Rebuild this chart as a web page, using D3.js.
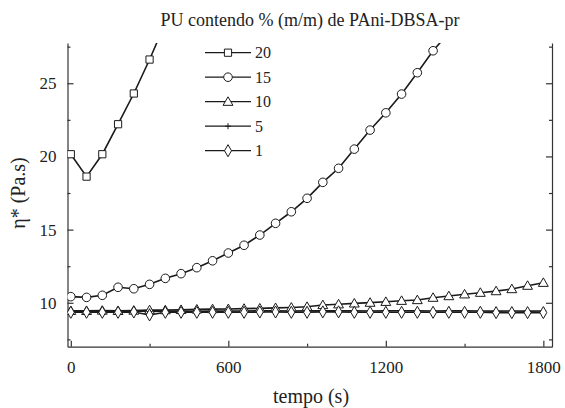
<!DOCTYPE html>
<html>
<head>
<meta charset="utf-8">
<script src="https://cdn.jsdelivr.net/npm/d3@7"></script>
<style>
  body { margin: 0; background: #fff; }
  .axis path, .axis line { stroke: #333; stroke-width: 1.2; }
</style>
</head>
<body>
<div id="chart"></div>
<script>
// 1: DATA
const times = [0, 60, 120, 180, 240, 300, 360, 420, 480, 540, 600, 660, 720, 780, 840, 900,
  960, 1020, 1080, 1140, 1200, 1260, 1320, 1380, 1440, 1500, 1560, 1620, 1680, 1740, 1800];

const seriesNames = ["20", "15", "10", "5", "1"];

const pu20 = [20.15, 18.62, 20.15, 22.2, 24.3, 26.62, 29.1];
const pu15 = [10.42, 10.37, 10.51, 11.06, 10.96, 11.26, 11.67, 11.99, 12.40, 12.87, 13.40, 13.93, 14.63,
  15.43, 16.22, 17.14, 18.23, 19.19, 20.5, 21.8, 22.98, 24.26, 25.72, 27.22, 28.45];
const pu10 = [9.45, 9.45, 9.47, 9.45, 9.47, 9.5, 9.5, 9.52, 9.55, 9.57, 9.58, 9.6, 9.62, 9.65, 9.68,
  9.73, 9.85, 9.90, 9.96, 10.01, 10.07, 10.14, 10.19, 10.35, 10.46, 10.58, 10.69, 10.80, 10.94, 11.17, 11.37];
const pu5 = [9.42, 9.42, 9.43, 9.42, 9.44, 9.4, 9.42, 9.43, 9.42, 9.44, 9.43, 9.44, 9.45, 9.45, 9.44,
  9.45, 9.45, 9.46, 9.45, 9.44, 9.45, 9.46, 9.45, 9.44, 9.45, 9.45, 9.44, 9.43, 9.44, 9.43, 9.44];
const pu1 = [9.35, 9.35, 9.35, 9.35, 9.37, 9.17, 9.35, 9.35, 9.35, 9.35, 9.35, 9.35, 9.37, 9.37, 9.35,
  9.35, 9.38, 9.38, 9.35, 9.35, 9.35, 9.35, 9.35, 9.35, 9.35, 9.35, 9.35, 9.33, 9.33, 9.33, 9.33];

const xMajor = [0, 600, 1200, 1800];
const xMinor = [300, 900, 1500];
const yMajor = [10, 15, 20, 25];
const yMinor = [7.5, 12.5, 17.5, 22.5, 27.5];

const serif = "'Liberation Serif', 'DejaVu Serif', 'Times New Roman', serif";

// 2: LAYOUT
const W = 565, H = 408;
const margin = { top: 43, right: 13, bottom: 61.3, left: 67.5 };

const svg = d3.select("#chart")
  .append("svg")
  .attr("width", W)
  .attr("height", H)
  .style("display", "block");

// 3: SCALES
const x = d3.scaleLinear()
  .domain([-12.6, 1833])
  .range([margin.left, W - margin.right]);

const y = d3.scaleLinear()
  .domain([7, 27.75])
  .range([H - margin.bottom, margin.top]);

// 4: AXES (ticks point inward, no top axis)
const fmt = d3.format("d");

svg.append("g")
  .attr("class", "axis")
  .attr("transform", `translate(0,${H - margin.bottom})`)
  .call(d3.axisBottom(x).tickValues(xMajor).tickFormat(fmt).tickSize(-6).tickSizeOuter(0).tickPadding(14));
svg.append("g")
  .attr("class", "axis")
  .attr("transform", `translate(0,${H - margin.bottom})`)
  .call(d3.axisBottom(x).tickValues(xMinor).tickSize(-3).tickSizeOuter(0).tickFormat(""))
  .select(".domain").remove();

svg.append("g")
  .attr("class", "axis")
  .attr("transform", `translate(${margin.left},0)`)
  .call(d3.axisLeft(y).tickValues(yMajor).tickFormat(fmt).tickSize(-6).tickSizeOuter(0).tickPadding(11));
svg.append("g")
  .attr("class", "axis")
  .attr("transform", `translate(${margin.left},0)`)
  .call(d3.axisLeft(y).tickValues(yMinor).tickSize(-3).tickSizeOuter(0).tickFormat(""))
  .select(".domain").remove();

svg.append("g")
  .attr("class", "axis")
  .attr("transform", `translate(${W - margin.right},0)`)
  .call(d3.axisRight(y).tickValues(yMajor).tickSize(-6).tickSizeOuter(0).tickFormat(""));
svg.append("g")
  .attr("class", "axis")
  .attr("transform", `translate(${W - margin.right},0)`)
  .call(d3.axisRight(y).tickValues(yMinor).tickSize(-3).tickSizeOuter(0).tickFormat(""))
  .select(".domain").remove();

svg.selectAll(".axis")
  .attr("font-family", serif)
  .attr("font-size", 17);
svg.selectAll(".axis text")
  .style("font-family", serif)
  .style("fill", "#222");

// 5: SERIES
svg.append("clipPath")
  .attr("id", "plot-clip")
  .append("rect")
  .attr("x", margin.left)
  .attr("y", margin.top)
  .attr("width", W - margin.left - margin.right)
  .attr("height", H - margin.top - margin.bottom);

const symbols = {
  "20": d3.symbol().type(d3.symbolSquare).size(52),
  "15": d3.symbol().type(d3.symbolCircle).size(58),
  "10": d3.symbol().type(d3.symbolTriangle).size(42),
  "1": d3.symbol().type(d3.symbolDiamond).size(42)
};

const seriesData = [pu20, pu15, pu10, pu5, pu1].map((vals, i) => ({
  name: seriesNames[i],
  points: vals.map((v, j) => ({ t: times[j], v }))
}));

const line = d3.line()
  .x(d => x(d.t))
  .y(d => y(d.v));

const plot = svg.append("g").attr("clip-path", "url(#plot-clip)");

plot.selectAll(".series-line")
  .data(seriesData)
  .enter()
  .append("path")
  .attr("class", "series-line")
  .attr("d", d => line(d.points))
  .style("fill", "none")
  .style("stroke", "#1a1a1a")
  .style("stroke-width", 1.6);

function drawMarker(sel, name) {
  if (name === "5") {
    sel.append("path")
      .attr("d", "M-3,0H3M0,-3V3")
      .style("stroke", "#1a1a1a")
      .style("stroke-width", 1)
      .style("fill", "none");
  } else {
    sel.append("path")
      .attr("d", symbols[name]())
      .attr("transform", name === "10" ? "translate(0,0.8)" : null)
      .style("fill", "#fff")
      .style("stroke", "#1a1a1a")
      .style("stroke-width", 1);
  }
}

// diamonds (1 %) end up on top, as in the original
seriesData.forEach(s => {
  plot.append("g")
    .selectAll("g")
    .data(s.points)
    .enter()
    .append("g")
    .attr("transform", d => `translate(${x(d.t)},${y(d.v)})`)
    .each(function () { drawMarker(d3.select(this), s.name); });
});

// 6: LABELS
svg.append("text")
  .attr("x", 310)
  .attr("y", 26)
  .attr("text-anchor", "middle")
  .style("font-family", serif)
  .style("font-size", "18px")
  .style("fill", "#222")
  .text("PU contendo % (m/m) de PAni-DBSA-pr");

svg.append("text")
  .attr("x", 311)
  .attr("y", 403)
  .attr("text-anchor", "middle")
  .style("font-family", serif)
  .style("font-size", "20px")
  .style("fill", "#222")
  .text("tempo (s)");

svg.append("text")
  .attr("transform", "rotate(-90)")
  .attr("x", -193)
  .attr("y", 24.5)
  .attr("text-anchor", "middle")
  .style("font-family", serif)
  .style("font-size", "20px")
  .style("fill", "#222")
  .text("η* (Pa.s)");

// 7: LEGEND
const legend = svg.selectAll(".legend")
  .data(seriesNames)
  .enter()
  .append("g")
  .attr("class", "legend")
  .attr("transform", (d, i) => `translate(205,${52.7 + i * 24.5})`);

legend.append("line")
  .attr("x1", 0)
  .attr("x2", 46)
  .style("stroke", "#1a1a1a")
  .style("stroke-width", 1.2);

legend.append("g")
  .attr("transform", "translate(23,0)")
  .each(function (d) { drawMarker(d3.select(this), d); });

legend.append("text")
  .attr("x", 50)
  .attr("y", 5.5)
  .style("font-family", serif)
  .style("font-size", "16px")
  .style("fill", "#222")
  .text(d => d);
</script>
</body>
</html>
